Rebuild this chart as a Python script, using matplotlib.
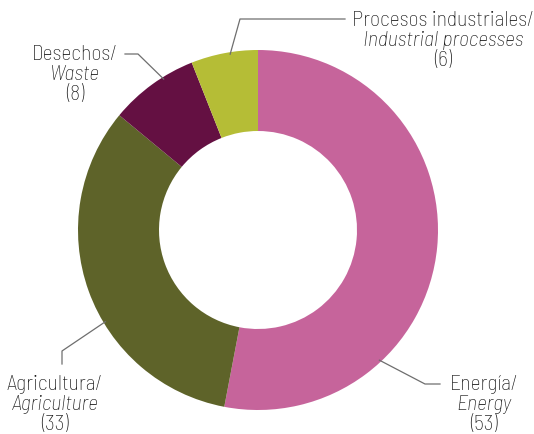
import numpy as np
import matplotlib.pyplot as plt

# data
labels_es = ["Energía/", "Agricultura/", "Desechos/", "Procesos industriales/"]
labels_en = ["Energy", "Agriculture", "Waste", "Industrial processes"]
values = [53, 33, 8, 6]
colors = ["#C6649B", "#5E6329", "#641042", "#B5BD36"]

plt.rcParams['font.family'] = ['Barlow Semi Condensed', 'DejaVu Sans']

fig = plt.figure(figsize=(5.34, 4.35), dpi=100)
ax = fig.add_axes([0, 0, 1, 1])

cx, cy, R = 258, 204, 180
wedges, _ = ax.pie(values, colors=colors, startangle=90, counterclock=False,
                   center=(cx, cy), radius=R,
                   wedgeprops=dict(width=81, edgecolor='none'), frame=True)
ax.set_xlim(0, 534)
ax.set_ylim(0, 435)
ax.axis('off')

# label positions (text centre x, first line y) and leader elbows
text_pos = [(484, 50), (55, 50), (75, 380), (443, 415)]
elbows = [[(425, 50), (440, 50)],
          [(62, 83), (62, 70)],
          [(138, 380), (125, 380)],
          [(240, 415), (345, 415)]]
anchor_ang = [-47, 211, 122, 99]

fs = 15.6
for i in range(len(values)):
    a = np.deg2rad(anchor_ang[i])
    r = R - 2
    pts = [(cx + r * np.cos(a), cy + r * np.sin(a))] + elbows[i]
    xs, ys = zip(*pts)
    ax.plot(xs, ys, color='#6E6E6E', lw=0.9)
    tx, ty = text_pos[i]
    ax.text(tx, ty, labels_es[i], ha='center', va='center', fontsize=fs,
            fontweight='light', color='#111111')
    ax.text(tx, ty - 20, labels_en[i], ha='center', va='center', fontsize=fs,
            fontweight='light', style='italic', color='#111111')
    ax.text(tx, ty - 40, "(%d)" % values[i], ha='center', va='center', fontsize=fs,
            fontweight='light', color='#111111')

fig.savefig("out.png", dpi=100)
